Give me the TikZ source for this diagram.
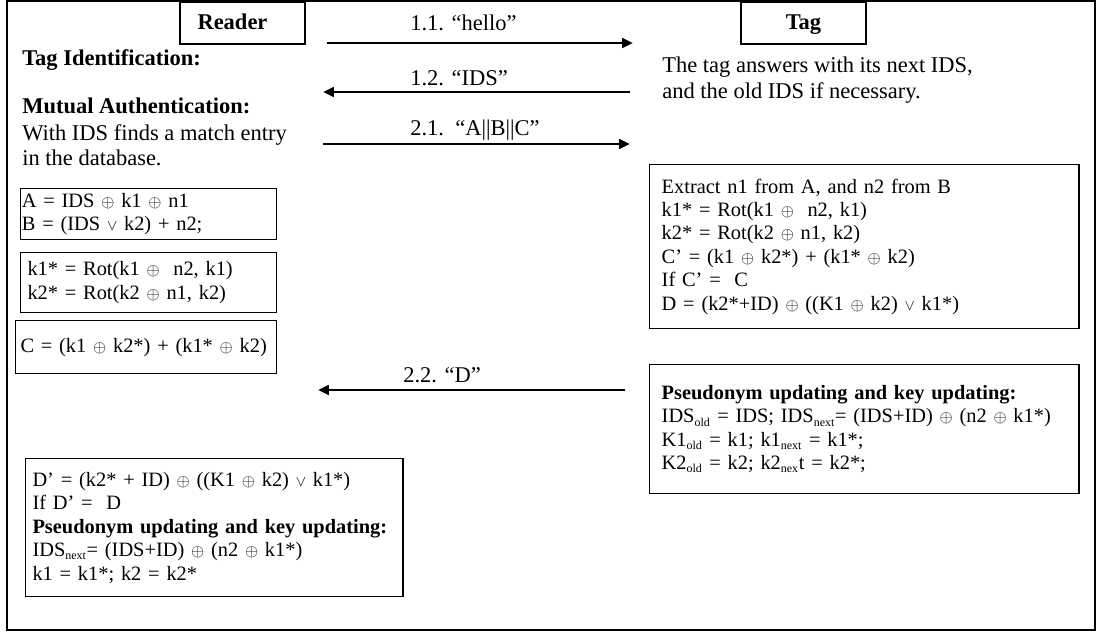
\documentclass[tikz,border=0pt]{standalone}
\usepackage{fontspec}
\setmainfont{Liberation Serif}
\usetikzlibrary{arrows.meta}

\newcommand{\xr}{{\fontsize{12.5}{12.5}\selectfont$\oplus$}}
\newcommand{\orr}{{\fontsize{10.5}{10.5}\selectfont$\vee$}}
\newcommand{\lowsub}[1]{\textsubscript{\fontsize{8.5}{8.5}\selectfont #1}}

\begin{document}
\begin{tikzpicture}[x=0.025cm, y=-0.025cm,
  every node/.style={font=\fontsize{16}{17.2}\selectfont, inner sep=0pt},
  party/.style={draw, line width=1pt, minimum width=3.125cm, minimum height=1.05cm, text height=0.4cm, text depth=0.1cm, font=\fontsize{16}{17.2}\selectfont\bfseries},
  freetext/.style={anchor=north west, align=left, font=\fontsize{16}{18}\selectfont},
  calcbox/.style={draw, line width=1pt, anchor=north west, align=left, font=\fontsize{14.5}{16.7}\selectfont},
  msg/.style={line width=2.1pt, -{Triangle[length=0.27cm, width=0.24cm]}},
  msglabel/.style={anchor=base west}]
  \useasboundingbox (0,0) rectangle (1101,634);

  % Frame and parties
  \draw[line width=1pt] (7,1) rectangle (1095,630);
  \node[party] (reader) at (242.5,23) {Reader\hspace*{0.5cm}};
  \node[party] (tag) at (803.5,23) {Tag};

  % Reader side
  \node[freetext, font=\fontsize{16}{18}\selectfont\bfseries] (tagid) at (22,49.5) {Tag Identification:};
  \node[freetext, font=\fontsize{16}{18}\selectfont\bfseries] (mutual) at (22,97.5) {Mutual Authentication:};
  \node[freetext] (match) at (22,124.5) {With IDS finds a match entry\\in the database.};

  \node[calcbox, inner xsep=0.03cm, minimum width=6.4cm, minimum height=1.275cm, text width=6.34cm] (ab) at (20,188)
    {A = IDS \xr{} k1 \xr{} n1\\B = (IDS \orr{} k2) + n2;};
  \node[calcbox, inner xsep=0.17cm, minimum width=6.4cm, minimum height=1.5cm, text width=6.06cm] (rotr) at (20,252)
    {k1* = Rot(k1 \xr{}\ \ n2, k1)\\k2* = Rot(k2 \xr{} n1, k2)};
  \node[calcbox, inner xsep=0.12cm, minimum width=6.525cm, minimum height=1.325cm, text width=6.285cm] (cval) at (15,320)
    {C = (k1 \xr{} k2*) + (k1* \xr{} k2)};
  \node[calcbox, inner xsep=0.17cm, minimum width=9.425cm, minimum height=3.45cm, text width=9.085cm] (dcheck) at (25,458)
    {D’ = (k2* + ID) \xr{} ((K1 \xr{} k2) \orr{} k1*)\\
     If D’ =\ \ D\\
     \textbf{Pseudonym updating and key updating:}\\
     IDS\lowsub{next}= (IDS+ID) \xr{} (n2 \xr{} k1*)\\
     k1 = k1*; k2 = k2*};

  % Tag side
  \node[freetext] (answer) at (662,57) {The tag answers with its next IDS,\\and the old IDS if necessary.};
  \node[calcbox, inner xsep=0.3cm, minimum width=10.725cm, minimum height=4.1cm, text width=10.125cm] (extract) at (649,164)
    {Extract n1 from A, and n2 from B\\
     k1* = Rot(k1 \xr{}\ \ n2, k1)\\
     k2* = Rot(k2 \xr{} n1, k2)\\
     C’ = (k1 \xr{} k2*) + (k1* \xr{} k2)\\
     If C’ =\ \ C\\
     D = (k2*+ID) \xr{} ((K1 \xr{} k2) \orr{} k1*)};
  \node[calcbox, inner xsep=0.3cm, minimum width=10.725cm, minimum height=3.225cm, text width=10.125cm] (update) at (649,364)
    {\textbf{Pseudonym updating and key updating:}\\
     IDS\lowsub{old} = IDS; IDS\lowsub{next}= (IDS+ID) \xr{} (n2 \xr{} k1*)\\
     K1\lowsub{old} = k1; k1\lowsub{next} = k1*;\\
     K2\lowsub{old} = k2; k2\lowsub{nex}t = k2*;};

  % Messages
  \coordinate (hello-r) at (327,43);  \coordinate (hello-t) at (633,43);
  \coordinate (ids-t) at (630,92);    \coordinate (ids-r) at (323,92);
  \coordinate (abc-r) at (323,144);   \coordinate (abc-t) at (630,144);
  \coordinate (d-t) at (625,390);     \coordinate (d-r) at (318,390);
  \draw[msg] (hello-r) -- (hello-t);
  \draw[msg] (ids-t) -- (ids-r);
  \draw[msg] (abc-r) -- (abc-t);
  \draw[msg] (d-t) -- (d-r);
  \node[msglabel] (hello) at (410,30) {1.1. “hello”};
  \node[msglabel] (ids) at (410,85) {1.2. “IDS”};
  \node[msglabel] (abc) at (410,135) {2.1.\ \ “A||B||C”};
  \node[msglabel] (dmsg) at (403,382) {2.2. “D”};
\end{tikzpicture}
\end{document}
